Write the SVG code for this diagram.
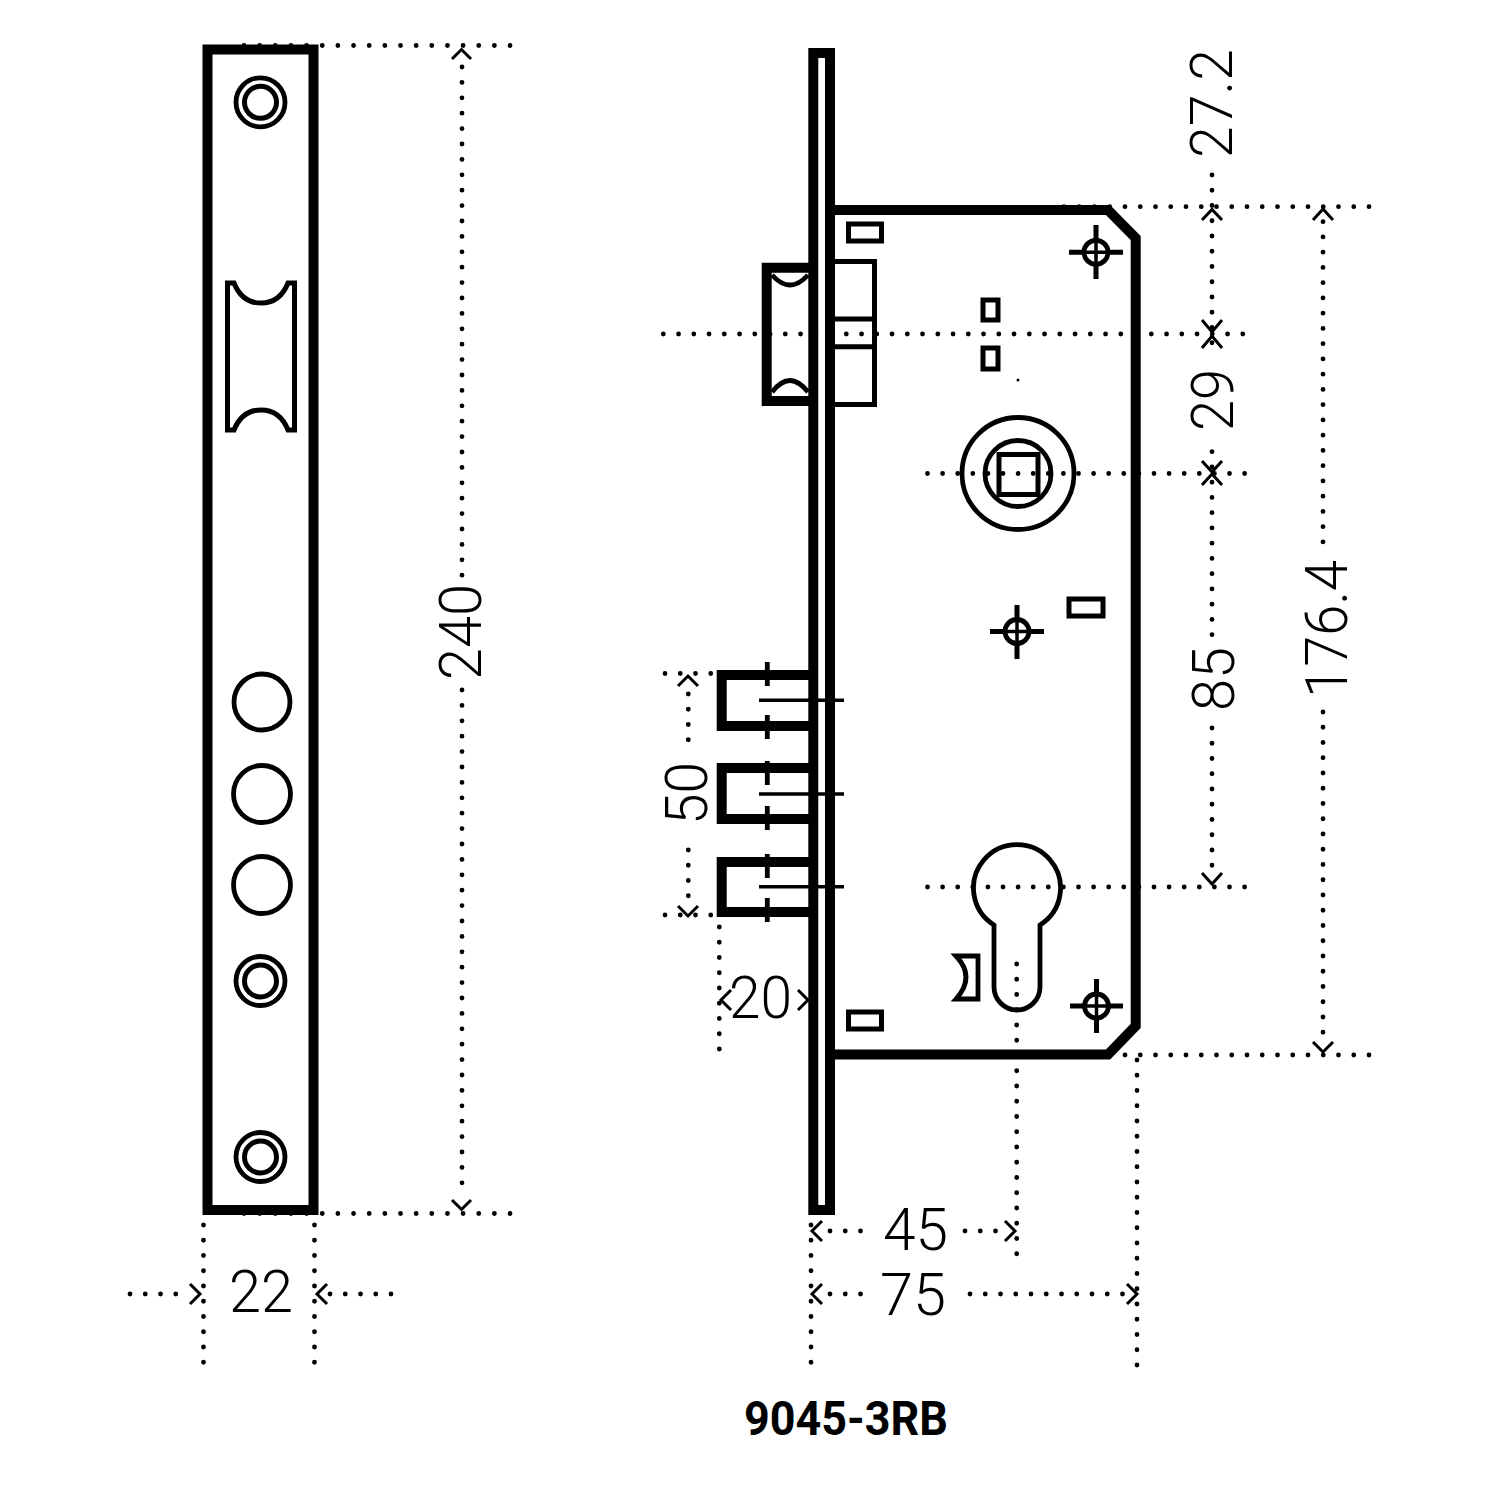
<svg xmlns="http://www.w3.org/2000/svg" width="1500" height="1500" viewBox="0 0 1500 1500">
<style>
.s{fill:none;stroke:#000;stroke-linejoin:miter}
.w10{stroke-width:10}
.w5{stroke-width:5}
.w4{stroke-width:4.8}
.d{fill:none;stroke:#000;stroke-width:4.8;stroke-linecap:round;stroke-dasharray:0 15.25}
.a{fill:none;stroke:#000;stroke-width:3}
.t{font-family:"Roboto","Liberation Sans",sans-serif;font-weight:300;font-size:60px;fill:#000}
.b{font-family:"Roboto","Liberation Sans",sans-serif;font-weight:700;font-size:48px;fill:#000}
</style>
<rect width="1500" height="1500" fill="#fff"/>
<g id="connectors">
<path class="d" style="stroke-dasharray:0 15.65" d="M244 45.5H515M244 1213.5H515"/>
<path class="d" style="stroke-dasharray:0 15.4" d="M462 67V580M462 690V1195"/>
<path class="d" d="M203.5 1225V1365M314.5 1225V1365M130 1294H190M330 1294H392"/>
<path class="a" d="M452 59L461.500 49.500L471 59M452 1200L461.500 1209.500L471 1200M190 1284L200 1294L190 1304M327 1284L317 1294L327 1304"/>
<path class="d" d="M663.300 334H1245M1064 206.700H1372M1125 1055H1372"/>
<path class="d" style="stroke-dasharray:0 15.1" d="M927.500 473.500H1246M927.500 887H1246"/>
<path class="d" d="M1212 175V345M1212 451.700V637M1212 728V880M1323 221.700V550M1323 712V1040"/>
<path class="a" d="M1202 220L1212 209.500L1222 220M1202 320L1212 332L1222 320M1202 348L1212 336L1222 348M1202 461L1212 472L1222 461M1202 485L1212 474L1222 485M1202 873L1212 884L1222 873M1313 220L1323 209L1333 220M1313 1042L1323 1052L1333 1042"/>
<path class="d" d="M665 673.500H712M665 915H712M688.300 694V742M688.300 850V898M719.300 927V1052"/>
<path class="a" d="M678 686L688 676L698 686M678 906L688 916L698 906M731 990L721 1000L731 1010M798 990L808 1000L798 1010"/>
<circle cx="1018" cy="380" r="1.500"/>
<path class="d" d="M1016.700 964V1258M811 1225V1366M1137 1060V1366M830 1231H862M965 1231H1006M830 1294H866M970 1294H1126"/>
<path class="a" d="M822 1221L812 1231L822 1241M1005 1221L1015 1231L1005 1241M822 1284L812 1294L822 1304M1127 1284L1137 1294L1127 1304"/>
</g>
<g id="strike-plate">
<rect class="s w10" x="207.500" y="49.500" width="106" height="1160.500"/>
<g class="s"><circle class="w4" cx="260.500" cy="102.300" r="24.500"/><circle class="w5" cx="260.500" cy="102.300" r="16"/></g>
<path class="s w5" d="M227.500 283H234Q242 303 261 303Q280 303 288 283H294.500V430H288Q280 410 261 410Q242 410 234 430H227.500Z"/>
<circle class="s w4" cx="262" cy="702" r="28"/>
<circle class="s w4" cx="262" cy="794" r="28.500"/>
<circle class="s w4" cx="262" cy="885" r="28.500"/>
<g class="s"><circle class="w4" cx="260.500" cy="981" r="24.500"/><circle class="w5" cx="260.500" cy="981" r="16"/></g>
<g class="s"><circle class="w4" cx="260.500" cy="1157" r="24.500"/><circle class="w5" cx="260.500" cy="1157" r="16"/></g>
</g>
<g id="lock">
<rect class="s w10" x="813.300" y="53" width="16.700" height="1157"/>
<path class="s w10" d="M830 210H1108L1135.700 238V1026L1108 1054.500H830"/>
<rect class="s w5" x="848.500" y="224" width="33" height="17"/>
<rect class="s w5" x="848.500" y="1012" width="33" height="17"/>
<path class="s w5" d="M835 261.500H874.500V404.500H835M835 319H874.500M835 346.700H874.500"/>
<path class="s w10" d="M812 267.700H766.700V401H812"/>
<path class="s w4" d="M772 275Q790 295 808 275M772 392Q790 369 808 392"/>
<path class="s w10" d="M812 675H721.700V726H812M812 768H721.700V819H812M812 862H721.700V912H812"/>
<path class="s w4" d="M767.300 662V686M767.300 715V739M767.300 761V785M767.300 806V830M767.300 854V878M767.300 898V922"/>
<path class="s" stroke-width="3.500" d="M759 700.300H844M759 794H844M759 886.700H844"/>
<rect class="s w5" x="983" y="300" width="15" height="20"/>
<rect class="s w5" x="983" y="348" width="15" height="21"/>
<circle class="s w4" cx="1018" cy="473.500" r="56"/>
<circle class="s w4" cx="1018" cy="473.500" r="33"/>
<rect class="s w5" x="999" y="454.500" width="39" height="40"/>
<rect class="s w5" x="1069" y="599" width="34" height="17"/>
<path class="s w4" d="M994 925V987A23 23 0 0 0 1040 987V925A43.500 43.500 0 1 0 994 925Z"/>
<path class="s w4" d="M956 956H978V999H956Q976 977 956 956Z"/>
</g>
<g id="mount-holes" class="s">
<g id="hole-1"><circle class="w4" cx="1096" cy="252.300" r="12"/><path class="w5" d="M1096 225V241M1096 264V279M1069 252.300H1085M1107 252.300H1123"/><path stroke-width="3.500" d="M1096 240V265M1084 252.300H1108"/></g>
<g id="hole-2"><circle class="w4" cx="1017" cy="631.500" r="12"/><path class="w5" d="M1017 605V620M1017 643V659M990 631.500H1006M1028 631.500H1044"/><path stroke-width="3.500" d="M1017 619V644M1005 631.500H1029"/></g>
<g id="hole-3"><circle class="w4" cx="1096.500" cy="1006" r="12"/><path class="w5" d="M1096.500 979V995M1096.500 1017V1033M1070 1006H1085M1108 1006H1123"/><path stroke-width="3.500" d="M1096.500 994V1018M1084 1006H1109"/></g>
</g>
<g id="labels">
<text class="t" transform="translate(481 680) rotate(-90)" textLength="96" lengthAdjust="spacingAndGlyphs">240</text>
<text class="t" x="229" y="1312" textLength="64" lengthAdjust="spacingAndGlyphs">22</text>
<text class="t" transform="translate(1232 158) rotate(-90)" textLength="109" lengthAdjust="spacingAndGlyphs">27.2</text>
<text class="t" transform="translate(1233 431) rotate(-90)" textLength="62" lengthAdjust="spacingAndGlyphs">29</text>
<text class="t" transform="translate(1234 711) rotate(-90)" textLength="64" lengthAdjust="spacingAndGlyphs">85</text>
<text class="t" transform="translate(1347 698) rotate(-90)" textLength="138" lengthAdjust="spacingAndGlyphs">176.4</text>
<text class="t" transform="translate(707 825) rotate(-90)" textLength="63" lengthAdjust="spacingAndGlyphs">50</text>
<text class="t" x="729" y="1018" textLength="63" lengthAdjust="spacingAndGlyphs">20</text>
<text class="t" x="883" y="1250" textLength="65" lengthAdjust="spacingAndGlyphs">45</text>
<text class="t" x="880" y="1315" textLength="66" lengthAdjust="spacingAndGlyphs">75</text>
<text class="b" x="744" y="1435" textLength="204" lengthAdjust="spacingAndGlyphs">9045-3RB</text>
</g>
</svg>
